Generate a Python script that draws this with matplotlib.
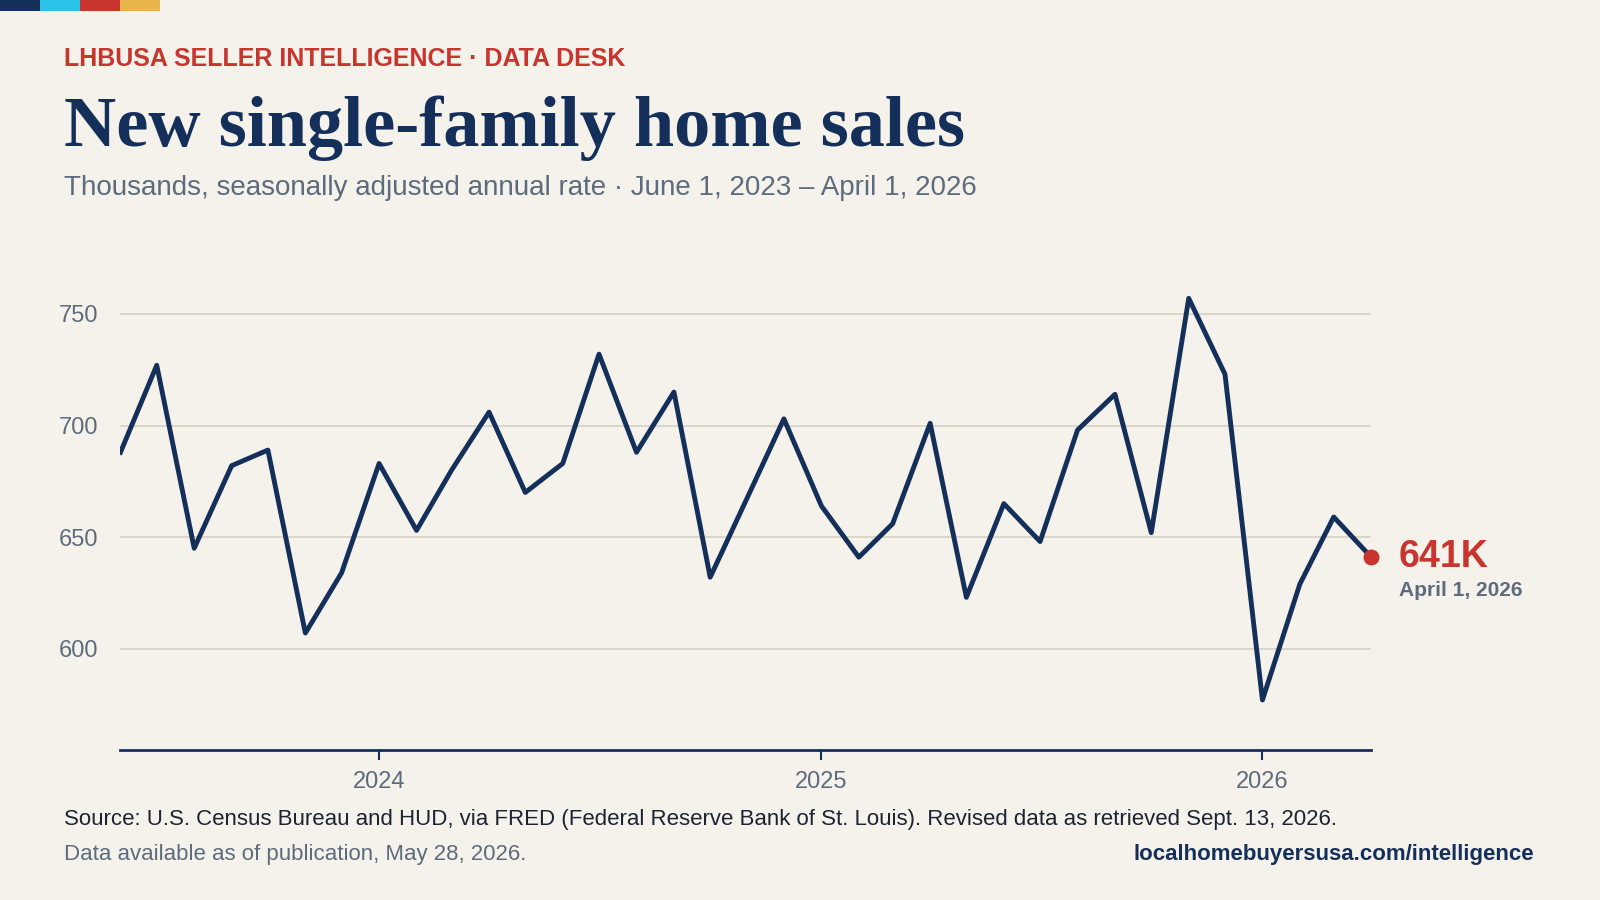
import matplotlib
matplotlib.use("Agg")
import matplotlib.pyplot as plt
import matplotlib.dates as mdates
import numpy as np
from matplotlib.patches import Rectangle

BG = "#f5f2ec"
NAVY = "#14305a"
RED = "#c8352e"
MUTED = "#5d6b7c"
GRID = "#d9d4c7"
SANS = ["Liberation Sans", "DejaVu Sans"]

months = np.arange("2023-06", "2026-05", dtype="datetime64[M]").astype("datetime64[D]")
sales = [688, 727, 645, 682, 689, 607, 634, 683, 653, 680, 706, 670,
         683, 732, 688, 715, 632, 668, 703, 664, 641, 656, 701, 623,
         665, 648, 698, 714, 652, 757, 723, 577, 629, 659, 641]
yticks = [600, 650, 700, 750]

fig = plt.figure(figsize=(16, 9), dpi=100)
fig.patch.set_facecolor(BG)

for i, c in enumerate([NAVY, "#2cc3e8", RED, "#e9b44c"]):
    fig.add_artist(Rectangle((i * 0.025, 0.988), 0.025, 0.012, transform=fig.transFigure,
                             color=c, lw=0))

fig.text(0.04, 0.935, "LHBUSA SELLER INTELLIGENCE · DATA DESK", color=RED, fontsize=18,
         fontweight="bold", family=SANS, va="center")
fig.text(0.04, 0.858, "New single-family home sales", color=NAVY, fontsize=52,
         fontweight="bold", family=["Liberation Serif", "DejaVu Serif"], va="center")
fig.text(0.04, 0.791, "Thousands, seasonally adjusted annual rate · June 1, 2023 – April 1, 2026",
         color=MUTED, fontsize=20, family=SANS, va="center")

ax = fig.add_axes([0.0753, 0.1667, 0.857 - 0.0753, 0.671 - 0.1667])
ax.set_facecolor(BG)
ax.plot(months, sales, color=NAVY, lw=3.5, solid_joinstyle="round", zorder=3)
ax.scatter([months[-1]], [sales[-1]], s=110, color=RED, zorder=4, clip_on=False)
ax.annotate(f"{sales[-1]}K", (months[-1], sales[-1]), xytext=(20, 0), textcoords="offset points",
            color=RED, fontsize=27, fontweight="bold", family=SANS, va="center",
            annotation_clip=False)
ax.annotate("April 1, 2026", (months[-1], sales[-1]), xytext=(20, -24), textcoords="offset points",
            color=MUTED, fontsize=15, fontweight="bold", family=SANS, va="center",
            annotation_clip=False)

ax.set_ylim(554.6, 758)
ax.set_xlim(months[0], months[-1])
ax.set_yticks(yticks)
ax.grid(axis="y", color=GRID, lw=1.3)
ax.xaxis.set_major_locator(mdates.YearLocator())
ax.xaxis.set_major_formatter(mdates.DateFormatter("%Y"))
for s in ["top", "right", "left"]:
    ax.spines[s].set_visible(False)
ax.spines["bottom"].set_color(NAVY)
ax.spines["bottom"].set_linewidth(2)
ax.tick_params(axis="y", length=0, labelsize=17, labelcolor=MUTED, pad=16)
ax.tick_params(axis="x", length=7, width=1.5, color=NAVY, labelsize=17, labelcolor=MUTED, pad=8)
for lbl in ax.get_xticklabels() + ax.get_yticklabels():
    lbl.set_family(SANS)

fig.text(0.04, 0.089, "Source: U.S. Census Bureau and HUD, via FRED (Federal Reserve Bank of St. Louis). "
         "Revised data as retrieved Sept. 13, 2026.", color="#1c2433", fontsize=16, family=SANS, va="center")
fig.text(0.04, 0.051, "Data available as of publication, May 28, 2026.", color=MUTED, fontsize=16,
         family=SANS, va="center")
fig.text(0.959, 0.051, "localhomebuyersusa.com/intelligence", color=NAVY, fontsize=16,
         fontweight="bold", family=SANS, va="center", ha="right")

fig.savefig("out.png", dpi=100, facecolor=BG)
